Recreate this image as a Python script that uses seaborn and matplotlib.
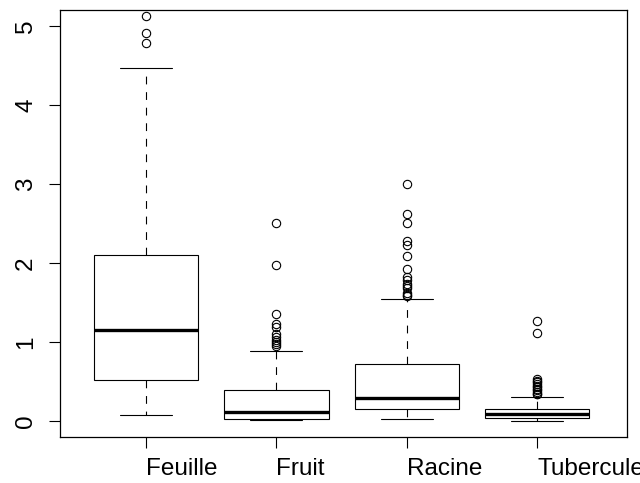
import numpy as np
import pandas as pd
import matplotlib
matplotlib.use("Agg")
import matplotlib.pyplot as plt
import seaborn as sns

# ---- data ----
categories = ["Feuille", "Fruit", "Racine", "Tubercule"]
q1 = [0.52, 0.03, 0.16, 0.04]
median = [1.15, 0.11, 0.29, 0.09]
q3 = [2.10, 0.39, 0.72, 0.15]
whisker_low = [0.08, 0.01, 0.03, 0.00]
whisker_high = [4.47, 0.89, 1.54, 0.31]
out_feuille = [5.13, 4.91, 4.78]
out_fruit = [2.51, 1.97, 1.36, 1.23, 1.19, 1.10, 1.06, 1.03, 1.00, 0.97, 0.95]
out_racine = [3.00, 2.62, 2.51, 2.28, 2.23, 2.09, 1.93, 1.82, 1.78, 1.74,
              1.71, 1.68, 1.62, 1.60, 1.58]
out_tubercule = [1.27, 1.11, 0.53, 0.51, 0.49, 0.47, 0.45, 0.43, 0.41, 0.39,
                 0.37, 0.35, 0.34]
outliers = [out_feuille, out_fruit, out_racine, out_tubercule]
y_ticks = [0, 1, 2, 3, 4, 5]

# Build a sample per group whose box statistics reproduce the values above
K = 100
rows = []
for i, cat in enumerate(categories):
    m = len(outliers[i])
    vals = ([whisker_low[i]] * (m + 1) + [q1[i]] * K + [median[i]] * K +
            [q3[i]] * K + [whisker_high[i]] + list(outliers[i]))
    rows += [(cat, v) for v in vals]
df = pd.DataFrame(rows, columns=["type", "value"])

sns.set_theme(style="white")
plt.rcParams["font.family"] = ["Liberation Sans", "DejaVu Sans"]

fig = plt.figure(figsize=(6.4, 4.83), dpi=100)
ax = fig.add_axes([60 / 640, 1 - 437 / 483, 567 / 640, 427 / 483])

sns.boxplot(data=df, x="type", y="value", order=categories, ax=ax,
            width=0.8, whis=1.5, color="white", linecolor="black",
            linewidth=0.8,
            boxprops=dict(facecolor="white", edgecolor="black", linewidth=0.8),
            whiskerprops=dict(color="black", linewidth=0.8, linestyle=(0, (7, 7))),
            capprops=dict(color="black", linewidth=0.8),
            medianprops=dict(color="black", linewidth=2.4, solid_capstyle="butt"),
            flierprops=dict(marker="o", markersize=6, markerfacecolor="none",
                            markeredgecolor="black", markeredgewidth=0.8))

ax.set_xlim(-0.66, 3.69)
ax.set_ylim(-0.20, 5.20)
ax.set_xlabel("")
ax.set_ylabel("")
ax.set_yticks(y_ticks)
ax.set_yticklabels([str(t) for t in y_ticks], rotation=90, va="center",
                   fontsize=17.5)
ax.set_xticks(range(len(categories)))
ax.set_xticklabels(categories, ha="left", fontsize=17.5)
ax.tick_params(axis="y", direction="out", length=8, width=0.8, pad=8.5,
               left=True, colors="black")
ax.tick_params(axis="x", direction="out", length=8, width=0.8, pad=7,
               bottom=True, colors="black")
for s in ax.spines.values():
    s.set_visible(True)
    s.set_color("black")
    s.set_linewidth(0.9)
ax.grid(False)
fig.patch.set_facecolor("white")

fig.savefig("out.png", dpi=100, facecolor="white")
